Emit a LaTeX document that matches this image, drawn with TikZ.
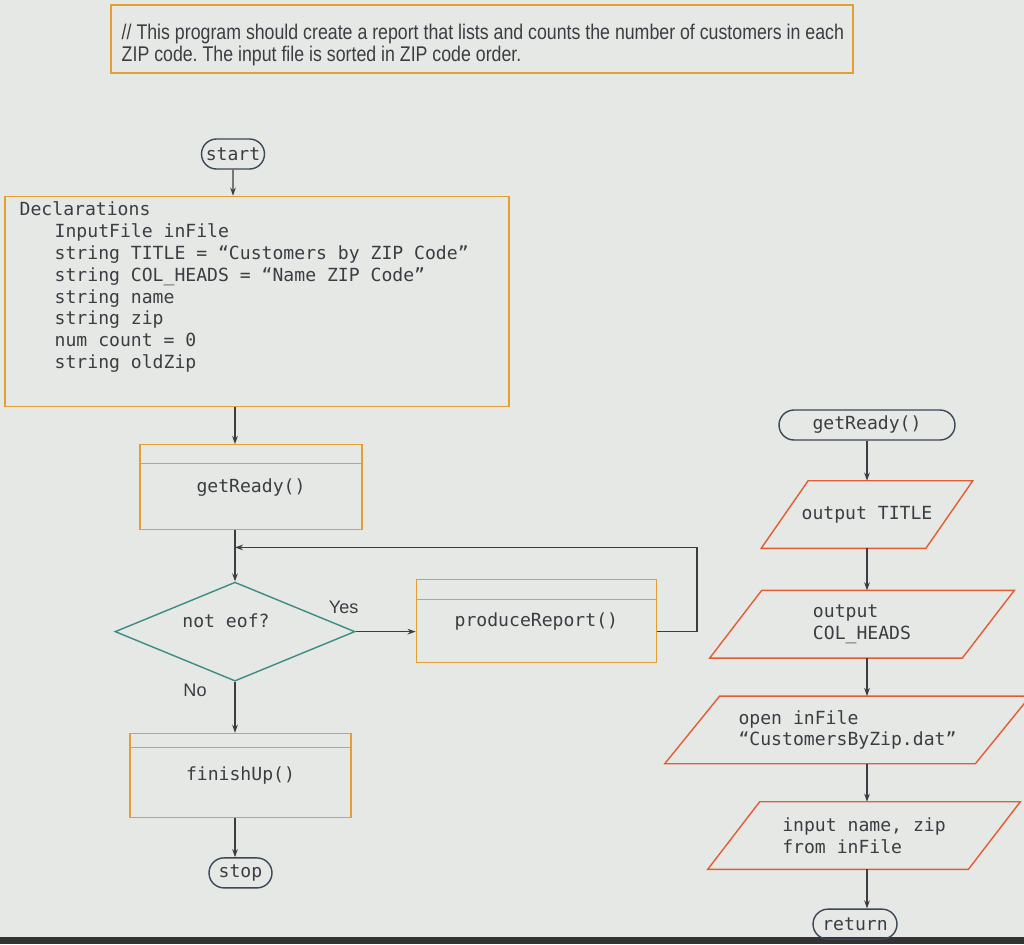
\documentclass[tikz,border=0pt]{standalone}
\usepackage{fontspec}
\setmainfont{Liberation Sans}
\setmonofont{DejaVu Sans Mono}
\newfontfamily\notefont{Liberation Sans}[FakeStretch=0.835]
\usepackage{xcolor}
\definecolor{bgpage}{RGB}{230,232,230}
\definecolor{modorange}{RGB}{226,160,52}
\definecolor{iored}{RGB}{226,92,52}
\definecolor{decteal}{RGB}{60,140,130}
\definecolor{termslate}{RGB}{58,72,88}
\definecolor{inkgrey}{RGB}{60,60,66}
\usepackage{tikz}
\usetikzlibrary{shapes.geometric,shapes.misc,arrows.meta,positioning,calc}
\frenchspacing
\tikzset{
  code/.style={font=\ttfamily\fontsize{10.3}{12.4}\selectfont, text=inkgrey},
  term/.style={draw=termslate, rounded rectangle, line width=0.8pt, minimum height=0.6cm, inner sep=0pt, code},
  modbox/.style={draw=modorange, line width=0.8pt, minimum width=4.44cm, minimum height=1.7cm, code,
    path picture={\draw[modorange, line width=0.8pt] ([yshift=-#1]path picture bounding box.north west) -- ([yshift=-#1]path picture bounding box.north east);}},
  modbox/.default=0.38cm,
  iobox/.style={minimum height=1.34cm, align=left, inner sep=0pt, code},
  iobord/.style={draw=iored, line width=0.8pt, line join=miter},
  dec/.style={draw=decteal, diamond, aspect=2.4, line width=0.8pt, minimum width=4.8cm, minimum height=1.98cm, inner sep=0pt},
  arr/.style={-{Stealth[length=4.6pt,width=3.2pt]}, draw=inkgrey, line width=0.7pt},
  lbl/.style={font=\fontsize{10.3}{12}\selectfont, text=inkgrey}
}

\begin{document}
\begin{tikzpicture}[x=0.02cm, y=-0.02cm]
  \fill[bgpage] (0,0) rectangle (1024,944);
  \fill[black!80] (0,937) rectangle (1024,944);
  \useasboundingbox (0,0) rectangle (1024,944);

  % comment box
  \node[draw=modorange, line width=0.8pt, minimum width=14.84cm, minimum height=1.36cm] (note) at (482,39) {};
  \node[anchor=north west, inner sep=0pt, align=left,
        font=\notefont\fontsize{12.1}{12.5}\selectfont, text=inkgrey] (notetxt) at ($(note.north west)+(11,19)$)
    {// This program should create a report that lists and counts the number of customers in each\\ZIP code. The input file is sorted in ZIP code order.};

  % main program
  \node[term, minimum width=1.26cm] (start) at (233,154) {start};
  \node[draw=modorange, line width=0.8pt, minimum width=10.08cm, minimum height=4.2cm, below=0.52cm of start, xshift=0.48cm] (decl) {};
  \node[code, align=left, anchor=north west, inner sep=0pt] (decltxt) at ($(decl.north west)+(15,6)$)
    {Declarations\\
     \hspace*{0.7cm}InputFile inFile\\
     \hspace*{0.7cm}string TITLE = “Customers by ZIP Code”\\
     \hspace*{0.7cm}string COL\_HEADS = “Name ZIP Code”\\
     \hspace*{0.7cm}string name\\
     \hspace*{0.7cm}string zip\\
     \hspace*{0.7cm}num count = 0\\
     \hspace*{0.7cm}string oldZip};
  \node[modbox, below=0.74cm of decl, xshift=-0.12cm] (getr) {getReady()};
  \node[dec, below=1.02cm of getr, xshift=-0.32cm] (dia) {};
  \node[code] (diatxt) at ($(dia)+(-9,-11)$) {not eof?};
  \node[modbox=0.4cm, minimum width=4.8cm, minimum height=1.66cm, right=1.2cm of dia, yshift=0.21cm] (prod) {produceReport()};
  \node[lbl] (yes) at ($(dia.east)+(-12,-24)$) {Yes};
  \node[modbox=0.28cm, minimum width=4.42cm, minimum height=1.68cm, below=1.02cm of dia, xshift=0.11cm] (fin) {finishUp()};
  \node[lbl] (no) at ($(dia.south)+(-40,9)$) {No};
  \node[term, minimum width=1.26cm, below=0.78cm of fin] (stop) {stop};

  % getReady module
  \node[term, minimum width=3.52cm] (gr2) at (867,425) {getReady()};
  \node[iobox, minimum width=4.22cm, below=0.8cm of gr2] (ttl) {output TITLE};
  \node[iobox, minimum width=6.08cm, below=0.84cm of ttl, xshift=-0.1cm] (colh) {output\\COL\_HEADS};
  \node[iobox, minimum width=7.3cm, below=0.76cm of colh, xshift=-0.29cm] (opn) {open inFile\\“CustomersByZip.dat”};
  \node[iobox, minimum width=6.24cm, below=0.76cm of opn, xshift=0.33cm] (inp) {input name, zip\\from inFile};
  \node[term, minimum width=1.68cm, below=0.78cm of inp, xshift=-0.18cm] (ret) {return};
  \foreach \n/\s in {ttl/0.94cm,colh/1.04cm,opn/1.1cm,inp/1.04cm}
    \draw[iobord] ([xshift=\s]\n.north west) -- (\n.north east) -- ([xshift=-\s]\n.south east) -- (\n.south west) -- cycle;

  % connectors
  \draw[arr] (start) -- (start |- decl.north);
  \draw[arr] (decl.south -| dia) -- (getr.north -| dia);
  \draw[arr] (getr.south -| dia) -- (dia.north);
  \draw[arr] (dia.east) -- (dia.east -| prod.west);
  \coordinate (loopin) at ($(getr.south -| dia)+(0,17)$);
  \draw[arr] (prod.east |- dia) -- ++(40,0) |- (loopin);
  \draw[arr] (dia.south) -- (dia.south |- fin.north);
  \draw[arr] (fin.south -| dia) -- (stop.north -| dia);
  \foreach \a/\b in {gr2/ttl,ttl/colh,colh/opn,opn/inp,inp/ret}
    \draw[arr] (\a.south -| gr2) -- (\b.north -| gr2);
\end{tikzpicture}
\end{document}
